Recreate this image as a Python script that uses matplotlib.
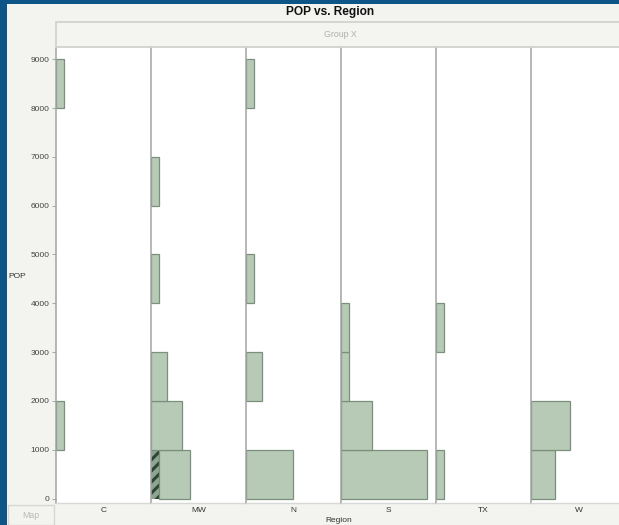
import matplotlib.pyplot as plt
from matplotlib.patches import Rectangle

# histogram of POP per region, bins of 1000
regions = ['C', 'MW', 'N', 'S', 'TX', 'W']
bin_starts = [0, 1000, 2000, 3000, 4000, 5000, 6000, 7000, 8000]
c_counts = [0, 1, 0, 0, 0, 0, 0, 0, 1]
mw_counts = [5, 4, 2, 0, 1, 0, 1, 0, 0]
n_counts = [6, 0, 2, 0, 1, 0, 0, 0, 1]
s_counts = [11, 4, 1, 1, 0, 0, 0, 0, 0]
tx_counts = [1, 0, 0, 1, 0, 0, 0, 0, 0]
w_counts = [3, 5, 0, 0, 0, 0, 0, 0, 0]
# rows highlighted in the MW column (hatched)
mw_selected = [1, 0, 0, 0, 0, 0, 0, 0, 0]
y_ticks = [0, 1000, 2000, 3000, 4000, 5000, 6000, 7000, 8000, 9000]

all_counts = [c_counts, mw_counts, n_counts, s_counts, tx_counts, w_counts]

plt.rcParams['font.family'] = ['Liberation Sans', 'DejaVu Sans']
plt.rcParams['hatch.linewidth'] = 2.2

W, H = 619, 525
fig = plt.figure(figsize=(W / 100, H / 100), dpi=100, facecolor='#f3f3f0')

fill = '#b7cab6'
edge = '#7b8f7d'
blue = '#0d5587'


def fx(px):
    return px / W


def fy(py):
    return 1 - py / H


# dark blue frame on the left and top
fig.patches.append(Rectangle((0, 0), fx(7), 1, transform=fig.transFigure,
                             facecolor=blue, edgecolor='none', zorder=0))
fig.patches.append(Rectangle((0, fy(4)), 1, fx(619), transform=fig.transFigure,
                             facecolor=blue, edgecolor='none', zorder=0))

# "Group X" header bar
fig.patches.append(Rectangle((fx(56), fy(47)), fx(580), 25 / H,
                             transform=fig.transFigure, facecolor='#f4f4f1',
                             edgecolor='#cfcfcc', linewidth=1.2, zorder=1))
fig.text(fx(340), fy(34.5), 'Group X', ha='center', va='center',
         fontsize=6.3, color='#b0b0ad')

fig.text(fx(330), fy(12), 'POP vs. Region', ha='center', va='center',
         fontsize=8.6, fontweight='bold', color='#111111')

# "Map" box in the lower-left corner
fig.patches.append(Rectangle((fx(8), 0), fx(46), 20 / H,
                             transform=fig.transFigure, facecolor='#f3f3f0',
                             edgecolor='#d6d6d3', linewidth=1, zorder=1))
fig.text(fx(31), fy(516), 'Map', ha='center', va='center',
         fontsize=6.3, color='#b9b9b6')

fig.text(fx(8), fy(276), 'POP', ha='left', va='center', fontsize=6, color='#333333')
fig.text(fx(339), fy(521), 'Region', ha='center', va='center',
         fontsize=6, color='#333333')

col_left = 56
col_w = 95
top, bottom = 48, 503
x_max = col_w / 7.85

for i, (region, counts) in enumerate(zip(regions, all_counts)):
    ax = fig.add_axes([fx(col_left + i * col_w), fy(bottom), fx(col_w),
                       (bottom - top) / H])
    ax.set_facecolor('white')
    ys = [b for b, c in zip(bin_starts, counts) if c > 0]
    if region == 'MW':
        sel = [s for s, c in zip(mw_selected, counts) if c > 0]
        rest = [c - s for s, c in zip(mw_selected, counts) if c > 0]
        ys_sel = [y for y, s in zip(ys, sel) if s > 0]
        ax.barh(ys_sel, [s for s in sel if s > 0], height=1000, align='edge',
                facecolor='#8da58f', edgecolor='#2e4536', hatch='///',
                linewidth=0, zorder=2)
        ax.barh(ys, rest, left=sel, height=1000, align='edge',
                facecolor=fill, edgecolor=edge, linewidth=0.9, zorder=2)
    else:
        vals = [c for c in counts if c > 0]
        ax.barh(ys, vals, height=1000, align='edge',
                facecolor=fill, edgecolor=edge, linewidth=0.9, zorder=2)

    ax.set_xlim(0, x_max)
    ax.set_ylim(-92, 9230)
    ax.set_xticks([])
    for side in ['top', 'right']:
        ax.spines[side].set_visible(False)
    ax.spines['left'].set_color('#a3a3a3')
    ax.spines['left'].set_linewidth(1.1)
    ax.spines['bottom'].set_color('#d8d8d5')
    ax.spines['bottom'].set_linewidth(1.0)
    if i == 0:
        ax.set_yticks(y_ticks)
        ax.set_yticklabels([str(t) for t in y_ticks])
        ax.tick_params(axis='y', length=3, width=0.6, color='#9a9a9a',
                       labelsize=6, labelcolor='#444444', pad=1.5)
    else:
        ax.set_yticks([])
    ax.text(0.5, -0.017, region, transform=ax.transAxes, ha='center',
            va='center', fontsize=6, color='#333333')

fig.savefig('out.png', dpi=100, facecolor=fig.get_facecolor())
